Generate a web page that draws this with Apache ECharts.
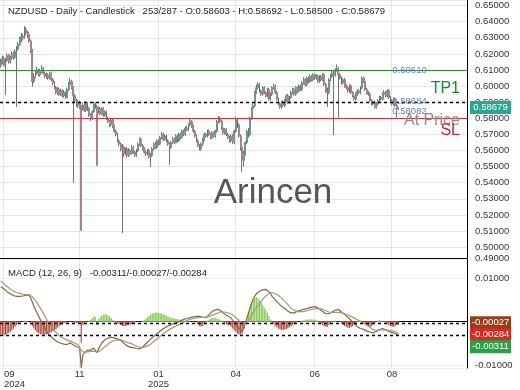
<!DOCTYPE html>
<html><head><meta charset="utf-8">
<script src="https://cdn.jsdelivr.net/npm/echarts@6/dist/echarts.min.js"></script>
<style>html,body{margin:0;padding:0;background:#fff}#main{width:520px;height:390px}</style>
</head><body><div id="main"></div>
<script>
// ---- text / labels ----
const headerText = 'NZDUSD - Daily - Candlestick   253/287 - O:0.58603 - H:0.58692 - L:0.58500 - C:0.58679';
const macdHeader = 'MACD (12, 26, 9)   -0.00311/-0.00027/-0.00284';
const watermark = 'Arincen';
const xTickIndex = [2, 50, 100, 149, 199, 248];
const xTickLabels = ['09\n2024', '11', '01\n2025', '04', '06', '08'];
const slotCount = 296;
// ---- levels ----
const tp1Level = 0.60610, entryLevel = 0.58684, slLevel = 0.58082, lastClose = 0.58679;
const macdLast = -0.00311, histLast = -0.00027, signalLast = -0.00284;
// ---- OHLC in pips (x 1e-4) ----
const opens = [
6130,6150,6170,6130,6160,6190,6150,6175,6200,6180,
6215,6230,6260,6290,6310,6300,6350,6330,6320,6280,
6220,6030,6060,6080,6100,6070,6090,6110,6080,6060,
6070,6050,6080,6040,6020,5990,5960,5980,5950,5970,
5940,5960,5930,5980,6010,6030,5990,5940,5910,5880,
5900,5870,5870,5880,5850,5890,5860,5820,5800,5840,
5890,5870,5850,5860,5830,5860,5820,5840,5800,5780,
5760,5790,5750,5720,5700,5660,5640,5610,5620,5580,
5610,5570,5600,5580,5620,5590,5570,5600,5640,5670,
5630,5610,5590,5580,5600,5560,5570,5610,5640,5620,
5660,5640,5680,5700,5670,5690,5660,5640,5620,5650,
5670,5650,5690,5660,5700,5680,5720,5700,5740,5730,
5760,5780,5750,5720,5690,5660,5630,5610,5640,5670,
5700,5690,5720,5700,5680,5710,5690,5720,5780,5800,
5780,5740,5710,5730,5700,5680,5660,5690,5650,5720,
5790,5760,5690,5620,5540,5580,5650,5720,5700,5800,
5860,5880,5960,5990,6010,5970,5950,5990,5960,5940,
5980,5920,5950,5990,6000,5960,5920,5890,5870,5900,
5880,5910,5940,5900,5930,5960,5980,5950,5990,5970,
6000,5980,6020,6040,6010,6050,6030,6060,6040,6070,
6050,6060,6030,6060,6040,6070,6010,5970,5960,6040,
6060,6080,6070,6100,6110,6070,6050,6020,6040,6000,
5990,5970,6000,5960,5940,5920,5950,5970,5960,5990,
6050,6030,5980,5960,5950,5910,5890,5900,5870,5890,
5910,5930,5920,5950,5960,5940,5970,5930,5910,5890,
5920,5880,5860.3];
const closes = [
6150,6170,6130,6160,6190,6150,6175,6200,6180,6215,
6230,6260,6290,6310,6300,6350,6330,6320,6280,6220,
6030,6060,6080,6100,6070,6090,6110,6080,6060,6070,
6050,6080,6040,6020,5990,5960,5980,5950,5970,5940,
5960,5930,5980,6010,6030,5990,5940,5910,5880,5900,
5870,5106,5880,5850,5890,5860,5820,5800,5840,5890,
5870,5511,5860,5830,5860,5820,5840,5800,5780,5760,
5790,5750,5720,5700,5660,5640,5610,5620,5580,5610,
5570,5600,5580,5620,5590,5570,5600,5640,5670,5630,
5610,5590,5580,5600,5560,5570,5610,5640,5620,5660,
5640,5680,5700,5670,5690,5660,5640,5620,5650,5670,
5650,5690,5660,5700,5680,5720,5700,5740,5730,5760,
5780,5750,5720,5690,5660,5630,5610,5640,5670,5700,
5690,5720,5700,5680,5710,5690,5720,5780,5800,5780,
5740,5710,5730,5700,5680,5660,5690,5650,5720,5790,
5760,5690,5620,5540,5580,5650,5720,5700,5800,5860,
5880,5960,5990,6010,5970,5950,5990,5960,5940,5980,
5920,5950,5990,6000,5960,5920,5890,5870,5900,5880,
5910,5940,5900,5930,5960,5980,5950,5990,5970,6000,
5980,6020,6040,6010,6050,6030,6060,6040,6070,6050,
6060,6030,6060,6040,6070,6010,5970,5960,6040,6060,
6080,6070,6100,6110,6070,6050,6020,6040,6000,5990,
5970,6000,5960,5940,5920,5950,5970,5960,5990,6050,
6030,5980,5960,5950,5910,5890,5900,5870,5890,5910,
5930,5920,5950,5960,5940,5970,5930,5910,5890,5920,
5880,5860,5867.9];
const lows = [
6115,6135,6120,5946,6150,6140,6140,6165,6165,6170,
5871,6220,6250,6275,6285,6295,6315,6300,6270,6205,
5996,6020,6050,6070,6060,6060,6080,6070,6050,6045,
6040,6040,6030,6005,5980,5950,5945,5940,5940,5930,
5930,5920,5925,5970,6000,5980,5399,5900,5870,5865,
5860,5100,5850,5840,5840,5845,5810,5785,5790,5835,
5860,5505,5830,5820,5820,5810,5810,5790,5770,5745,
5750,5740,5710,5690,5650,5625,5595,5088,5560,5570,
5555,5560,5570,5575,5580,5560,5560,5590,5630,5620,
5600,5580,5565,5570,5550,5498,5560,5600,5610,5610,
5630,5635,5670,5660,5660,5650,5630,5511,5610,5640,
5640,5645,5650,5655,5670,5675,5690,5690,5720,5720,
5750,5740,5710,5680,5650,5620,5600,5600,5630,5660,
5680,5680,5690,5670,5670,5680,5680,5710,5770,5770,
5730,5700,5700,5690,5670,5650,5650,5640,5640,5710,
5740,5680,5600,5467,5500,5570,5640,5680,5690,5790,
5850,5870,5950,5980,5960,5940,5940,5950,5930,5930,
5910,5910,5940,5980,5950,5910,5880,5860,5860,5870,
5870,5900,5890,5890,5920,5950,5940,5940,5960,5960,
5970,5970,6010,6000,6000,6020,6020,6030,6030,6040,
6040,6020,6020,6030,6030,6000,5960,5871,5950,6030,
6050,5697,6060,6090,5803,6040,6010,6010,5990,5980,
5960,5960,5950,5930,5910,5910,5940,5950,5950,5980,
6020,5970,5950,5940,5900,5880,5880,5860,5860,5880,
5900,5910,5910,5940,5930,5930,5920,5900,5880,5880,
5870,5805,5850];
const highs = [
6170,6190,6185,6175,6205,6200,6190,6215,6215,6230,
6250,6275,6305,6330,6325,6372,6365,6345,6335,6290,
6230,6080,6100,6120,6110,6105,6130,6120,6090,6085,
6080,6090,6090,6050,6030,6000,5995,5990,5985,5980,
5975,5970,5990,6025,6050,6040,6000,5950,5920,5915,
5910,5880,5895,5890,5905,5900,5870,5830,5850,5905,
5900,5885,5875,5870,5870,5870,5850,5850,5810,5790,
5800,5800,5760,5730,5710,5670,5650,5640,5630,5620,
5620,5615,5610,5635,5630,5600,5610,5650,5680,5680,
5640,5620,5600,5610,5610,5585,5620,5650,5655,5670,
5670,5690,5715,5710,5700,5700,5670,5650,5660,5685,
5680,5700,5700,5710,5710,5730,5730,5750,5755,5770,
5795,5790,5760,5730,5700,5670,5640,5650,5680,5710,
5710,5730,5730,5710,5720,5720,5730,5790,5815,5810,
5790,5750,5740,5740,5710,5690,5700,5700,5730,5810,
5800,5770,5700,5630,5600,5660,5730,5740,5810,5870,
5900,5970,6010,6025,6020,5980,6000,6000,5970,5990,
5990,5960,6000,6015,6010,5970,5930,5900,5910,5910,
5920,5950,5950,5940,5970,5990,5990,6000,6000,6010,
6010,6030,6055,6050,6060,6060,6075,6070,6080,6080,
6075,6070,6070,6070,6080,6080,6020,5990,6050,6075,
6095,6100,6110,6135,6120,6080,6060,6050,6050,6010,
6000,6010,6010,5970,5950,5960,5980,5980,6000,6060,
6060,6040,5990,5970,5960,5920,5910,5910,5900,5920,
5940,5940,5960,5975,5970,5980,5980,5940,5920,5930,
5930,5890,5869.2];
// ---- MACD (x 1e-4) ----
const macdLine = [
81,78,75,72,69,66,64,62,60,59,
58,58,58,59,59,60,61,62,61,58,
45,35,27,20,12,5,-2,-9,-16,-23,
-28,-31,-35,-38,-42,-45,-47,-49,-50,-51,
-52,-53,-53,-51,-49,-51,-54,-56,-58,-58,
-60,-107,-77,-72,-68,-66,-66,-66,-64,-61,
-60,-72,-62,-56,-50,-46,-42,-40,-38,-37,
-36,-37,-38,-39,-40,-41,-42,-46,-50,-53,
-56,-58,-59,-60,-60,-61,-62,-63,-63,-61,
-58,-55,-51,-47,-44,-40,-37,-34,-31,-28,
-25,-22,-19,-16,-14,-12,-10,-8,-7,-5,
-4,-3,-2,0,2,3,5,6,7,8,
9,10,11,11,12,12,12,11,10,9,
9,12,16,20,23,25,27,28,28,26,
23,20,17,15,13,12,8,3,-3,-8,
-12,-16,-20,-23,-15,-4,8,20,32,43,
52,59,64,68,70,72,73,74,74,74,
69,64,58,54,50,46,42,38,35,33,
30,27,24,22,20,19,20,22,24,25,
26,27,28,29,30,31,32,33,34,35,
34,32,29,26,23,20,18,16,18,20,
22,24,26,27,28,25,22,19,16,13,
10,6,3,0,-4,-8,-12,-14,-16,-17,
-18,-20,-22,-23,-24,-25,-26,-25,-23,-21,
-19,-17,-16,-17,-19,-21,-23,-24,-25,-26,
-28,-30,-31.1];
const signalLine = [
93,90,87,84,81,78,75,73,71,69,
67,66,65,64,63,62,62,62,62,61,
57,53,48,43,37,31,25,19,12,5,
-1,-7,-12,-17,-21,-25,-29,-32,-35,-37,
-39,-41,-42,-44,-45,-46,-48,-50,-52,-54,
-56,-66,-70,-71,-71,-70,-70,-69,-69,-68,
-67,-70,-69,-67,-64,-61,-58,-55,-52,-49,
-47,-45,-44,-43,-42,-42,-42,-43,-44,-46,
-47,-49,-50,-51,-53,-55,-57,-58,-60,-60,
-60,-59,-58,-56,-54,-52,-49,-46,-43,-40,
-37,-34,-31,-28,-26,-23,-21,-18,-16,-14,
-12,-10,-9,-7,-5,-4,-2,0,2,4,
5,6,7,8,8,9,9,10,10,10,
10,11,12,13,15,16,18,19,21,22,
22,22,22,21,20,19,17,15,12,9,
6,3,-2,-7,-8,-6,-3,2,8,15,
21,27,32,36,40,46,51,55,59,63,
65,66,67,66,64,62,60,57,54,51,
47,43,39,35,31,28,26,24,23,23,
23,23,23,24,25,26,27,28,29,30,
30,30,30,29,28,27,25,23,22,21,
21,21,21,21,21,21,20,19,18,17,
15,14,12,10,8,6,4,2,0,-2,
-4,-6,-8,-11,-13,-16,-19,-20,-20,-20,
-19,-19,-19,-19,-19,-19,-20,-20,-21,-21,
-23,-26,-28.4];
const histogram = [
-30,-32,-32,-30,-28,-26,-24,-20,-16,-12,
-8,-4,-2,0,1,2,2,1,0,-2,
-10,-16,-20,-24,-27,-29,-30,-30,-30,-29,
-28,-26,-24,-22,-20,-17,-14,-11,-8,-6,
-4,-3,-2,0,2,0,-2,-3,-3,-4,
-6,-48,-8,-4,-2,0,2,4,8,12,
10,-8,6,10,14,16,17,16,14,12,
8,4,1,-2,-4,-6,-8,-10,-10,-10,
-9,-8,-7,-5,-3,-2,0,1,0,1,
2,4,7,10,13,16,18,20,21,21,
20,19,18,17,15,13,12,10,9,8,
7,6,6,5,4,4,3,2,2,1,
1,0,1,0,-2,-6,-10,-12,-10,-6,
-2,2,4,6,8,8,8,7,6,4,
2,1,-3,-6,-9,-8,-12,-16,-20,-24,
-28,-30,-30,-28,-18,-6,10,22,32,42,
50,55,56,54,50,44,38,32,26,20,
12,4,-2,-6,-10,-13,-16,-18,-19,-19,
-18,-17,-15,-13,-11,-8,-5,-3,-1,0,
1,2,3,4,5,5,5,5,5,4,
3,2,-2,-5,-8,-11,-12,-12,-8,-3,
-1,1,2,1,0,-1,-4,-7,-10,-12,
-14,-14,-13,-11,-8,-4,1,2,2,1,
-3,-6,-9,-12,-12,-10,-7,-4,-1,2,
3,2,1,-1,-3,-5,-8,-10,-12,-12,
-10,-8,-6];

const FONT = 'Liberation Sans, Arial, sans-serif';
const cats = Array.from({length: slotCount}, (_, i) => (i === xTickIndex[0] ? {value: String(i), textStyle: {align: 'left'}} : String(i)));
const candles = opens.map((o, i) => [o / 1e4, closes[i] / 1e4, lows[i] / 1e4, highs[i] / 1e4]);
const macdData = macdLine.map(v => v / 1e4);
const signalData = signalLine.map(v => v / 1e4);
const histData = histogram.map(v => v / 1e4);

const isTick = (idx) => xTickIndex.indexOf(idx) >= 0;
const gridLineColor = '#e6e6e6';

const chart = echarts.init(document.getElementById('main'), null, {renderer: 'canvas'});
const option = {
  animation: false,
  backgroundColor: '#fff',
  textStyle: {fontFamily: FONT},
  grid: [
    {left: 0, right: 53, top: 0, height: 258, outerBoundsMode: 'none'},
    {left: 0, right: 53, top: 259, height: 109, outerBoundsMode: 'none'}
  ],
  xAxis: [
    {type: 'category', gridIndex: 0, data: cats, boundaryGap: true,
     axisLine: {show: true, lineStyle: {color: '#000', width: 1}},
     axisTick: {show: false}, axisLabel: {show: false},
     splitLine: {show: true, interval: (i) => isTick(i), lineStyle: {color: gridLineColor}}},
    {type: 'category', gridIndex: 1, data: cats, boundaryGap: true,
     axisLine: {show: true, lineStyle: {color: '#000', width: 1}},
     axisTick: {show: false},
     axisLabel: {show: true, interval: (i) => isTick(i), margin: 1, lineHeight: 10,
       fontSize: 9.5, color: '#333', fontFamily: FONT,
       formatter: (v, i) => { const k = xTickIndex.indexOf(i); return k >= 0 ? xTickLabels[k] : ''; }},
     splitLine: {show: true, interval: (i) => isTick(i), lineStyle: {color: gridLineColor}}},
    {type: 'category', gridIndex: 1, data: cats, boundaryGap: true, show: false}
  ],
  yAxis: [
    {type: 'value', gridIndex: 0, position: 'right',
     min: 0.49325, max: 0.6535, splitNumber: 16, minInterval: 0.01, maxInterval: 0.01,
     axisLine: {show: true, lineStyle: {color: '#000', width: 1}},
     axisTick: {show: false},
     axisLabel: {margin: 8, fontSize: 9.5, color: '#333', fontFamily: FONT,
       showMinLabel: true, showMaxLabel: false,
       formatter: (v) => (Math.floor(v * 100 + 1e-6) / 100).toFixed(5)},
     splitLine: {show: true, lineStyle: {color: gridLineColor}}},
    {type: 'value', gridIndex: 1, position: 'right',
     min: -0.0107, max: 0.01442, splitNumber: 3, minInterval: 0.01, maxInterval: 0.01,
     axisLine: {show: true, lineStyle: {color: '#000', width: 1}},
     axisTick: {show: false},
     axisLabel: {margin: 8, fontSize: 9.5, color: '#333', fontFamily: FONT,
       showMinLabel: false, showMaxLabel: false,
       formatter: (v) => Math.abs(Math.abs(v) - 0.01) < 1e-9 ? v.toFixed(5) : ''},
     splitLine: {show: true, lineStyle: {color: '#efefef'}}}
  ],
  series: [
    {type: 'candlestick', name: 'wicks', xAxisIndex: 0, yAxisIndex: 0, data: candles,
     barWidth: '85%',
     itemStyle: {color: 'rgba(0,0,0,0)', color0: 'rgba(0,0,0,0)', borderColor: '#707070', borderColor0: '#707070', borderWidth: 1},
     markLine: {silent: true, symbol: ['none', 'none'], label: {show: false},
       data: [
         {yAxis: tp1Level, lineStyle: {color: '#2e8b36', type: 'solid', width: 1}},
         {yAxis: entryLevel, lineStyle: {color: '#000', type: [3, 3], width: 1.4}},
         {yAxis: slLevel, lineStyle: {color: '#d6303c', type: 'solid', width: 1}}
       ]}},
    {type: 'candlestick', name: 'bodies', xAxisIndex: 0, yAxisIndex: 0, data: candles,
     barWidth: '85%',
     itemStyle: {color: '#62c2ab', color0: '#ee8d9b', borderWidth: 0, borderColor: 'rgba(0,0,0,0)', borderColor0: 'rgba(0,0,0,0)'}},
    {type: 'bar', name: 'histShade', xAxisIndex: 2, yAxisIndex: 1, data: histData,
     barWidth: '100%', silent: true,
     itemStyle: {color: (p) => p.value >= 0 ? '#cdf3ee' : '#ffd3da'}, z: 1},
    {type: 'bar', name: 'hist', xAxisIndex: 1, yAxisIndex: 1, data: histData,
     barWidth: '50%',
     itemStyle: {color: (p) => p.value >= 0 ? '#8cc63f' : '#a3402c'}, z: 2},
    {type: 'line', name: 'macd', xAxisIndex: 1, yAxisIndex: 1, data: macdData,
     symbol: 'none', showSymbol: false, lineStyle: {color: '#7b6a4d', width: 1.2}, z: 3},
    {type: 'line', name: 'signal', xAxisIndex: 1, yAxisIndex: 1, data: signalData,
     symbol: 'none', showSymbol: false, lineStyle: {color: '#a4977a', width: 1.2}, z: 3}
  ]
};
chart.setOption(option);

// annotations positioned from values through the axes
const py = (v) => chart.convertToPixel({yAxisIndex: 0}, v);
const my = (v) => chart.convertToPixel({yAxisIndex: 1}, v);
const lastX = chart.convertToPixel({xAxisIndex: 0}, closes.length - 1);
const plotRight = chart.getWidth() - 53;
const textRight = 460;
const fmt = (v) => v.toFixed(5);
const g = [];
const txt = (text, x, y, fill, size, align) => ({type: 'text', z: 100, x: x, y: y, silent: true,
  style: {text: text, fill: fill, font: size + 'px ' + FONT, textAlign: align || 'left', textVerticalAlign: 'middle'}});
const hline = (y) => ({type: 'line', z: 50, silent: true,
  shape: {x1: 0, y1: Math.round(y) + 0.5, x2: plotRight, y2: Math.round(y) + 0.5},
  style: {stroke: '#000', lineWidth: 1.5, lineDash: [3, 3]}});
g.push(hline(my(histLast)));
g.push(hline(my(macdLast)));
g.push(txt(headerText, 8, 11, '#222', 9.5));
g.push(txt(macdHeader, 8, 273, '#222', 9.5));
g.push(txt(watermark, 273, 193, '#555', 35, 'center'));
g.push(txt('TP1', textRight, py(tp1Level) + 12, '#1f8a2a', 16, 'right'));
g.push(txt('At Price', textRight, py(entryLevel) + 13, '#8c8c8c', 16, 'right'));
g.push(txt('SL', textRight, py(slLevel) + 14, '#d8202a', 16, 'right'));
g.push(txt(fmt(tp1Level), lastX - 6, py(tp1Level) - 6, '#5f7fc8', 9.5));
g.push(txt(fmt(entryLevel), lastX - 6, py(entryLevel) - 6, '#5f7fc8', 9.5));
g.push(txt(fmt(slLevel), lastX - 6, py(slLevel) - 6, '#5f7fc8', 9.5));
const box = (val, y, fill) => {
  g.push({type: 'rect', z: 99, silent: true, shape: {x: 470, y: y - 6.5, width: 41, height: 13}, style: {fill: fill}});
  g.push(txt(fmt(val), 490.5, y, '#fff', 9.5, 'center'));
};
box(lastClose, py(lastClose), '#28a78c');
const y1 = my(histLast);
const y2 = Math.max(my(signalLast), y1 + 12);
const y3 = Math.max(my(macdLast), y2 + 12);
box(histLast, y1, '#93401a');
box(signalLast, y2, '#e0261f');
box(macdLast, y3, '#2c9f48');
chart.setOption({graphic: g});
</script></body></html>
